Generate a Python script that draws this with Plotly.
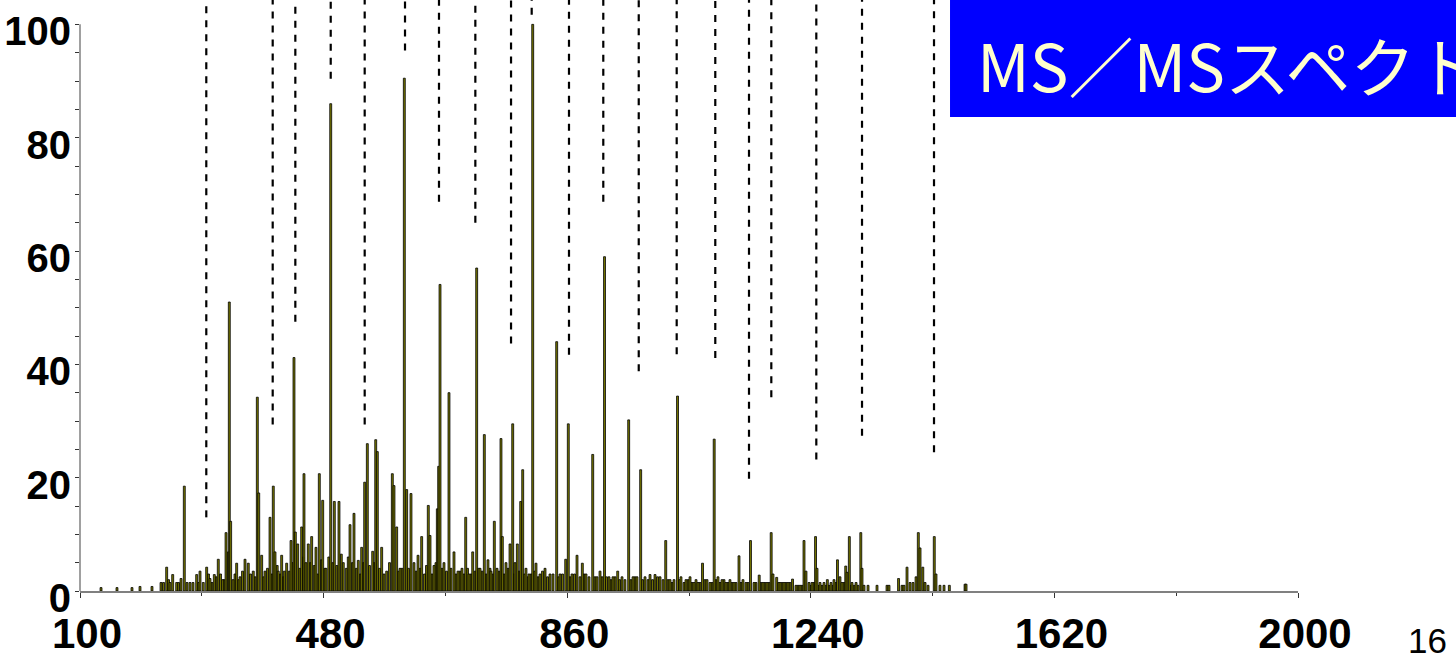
import plotly.graph_objects as go

# ---------------- data ----------------
# main fragment peaks (m/z, relative intensity %)
peak_mz = [132.8, 157.7, 181.1, 193.6, 212.3, 226.4, 235.2, 240.4, 244.6, 250.8,
           257.6, 262.7, 266.9, 271.6, 276.3, 282.0, 287.2, 292.3, 297.6, 302.8,
           309.5, 315.7, 322.6, 327.8, 331.5, 332.9, 335.0, 338.7, 344.4, 349.6,
           357.4, 362.5, 370.3, 376.6, 378.8, 383.4, 388.6, 396.4, 401.5, 404.2,
           409.3, 414.6, 418.7, 422.4, 429.2, 433.8, 435.9, 439.6, 445.8, 449.4,
           452.5, 456.1, 461.4, 468.1, 473.3, 478.6, 483.7, 491.1, 496.7, 504.0,
           510.7, 521.2, 527.4, 534.1, 539.4, 544.1, 548.2, 556.6, 561.3, 563.8,
           570.6, 578.4, 587.2, 589.8, 594.0, 599.2, 605.9, 609.6, 616.3, 621.0,
           627.3, 633.0, 643.3, 646.0, 652.2, 657.4, 659.5, 661.6, 667.8, 675.6,
           683.4, 689.7, 695.9, 701.7, 706.8, 712.6, 718.8, 724.0, 730.7, 736.4,
           741.1, 746.3, 750.5, 756.7, 758.8, 764.5, 770.8, 775.0, 778.6, 782.2,
           787.5, 790.6, 795.7, 800.4, 806.2, 811.3, 817.6, 825.4, 833.2, 843.6,
           848.8, 857.7, 861.7, 867.5, 875.3, 883.6, 889.3, 894.0, 899.8, 906.5,
           911.2, 918.2, 925.2, 931.4, 938.8, 945.5, 955.9, 962.7, 968.9, 974.6,
           981.4, 989.2, 997.0, 1004.8, 1013.7, 1020.4, 1026.6, 1032.1, 1037.5, 1045.3,
           1051.6, 1057.8, 1064.1, 1071.1, 1078.1, 1082.8, 1089.3, 1095.2, 1101.5, 1107.7,
           1113.9, 1120.2, 1128.0, 1134.2, 1138.9, 1145.9, 1151.4, 1159.5, 1165.4, 1171.7,
           1178.2, 1181.0, 1186.8, 1192.0, 1198.2, 1204.4, 1211.5, 1216.9, 1223.2, 1229.4,
           1232.5, 1237.2, 1241.9, 1247.4, 1249.7, 1254.4, 1260.6, 1265.8, 1271.5, 1276.2,
           1281.6, 1285.5, 1288.7, 1294.5, 1296.5, 1300.1, 1304.3, 1310.6, 1318.0, 1319.9,
           1323.0, 1329.3, 1343.3, 1358.9, 1362.0, 1376.9, 1382.3, 1385.4, 1390.1, 1394.8,
           1399.5, 1404.2, 1407.7, 1410.4, 1414.7, 1418.2, 1422.9, 1432.6, 1435.3, 1441.5,
           1447.8, 1456.1, 1480.6, 1482.2]
peak_int = [0.6, 0.6, 0.6, 0.8, 0.8, 1.5, 4.2, 1.5, 2.9, 1.5,
            2.2, 18.5, 1.5, 1.5, 1.5, 2.9, 3.5, 1.5, 4.2, 2.2,
            2.9, 5.6, 2.0, 10.3, 6.9, 51.0, 12.3, 2.0, 4.9, 2.5,
            5.6, 4.9, 3.5, 34.2, 17.3, 6.3, 3.5, 13.0, 18.5, 6.9,
            3.5, 6.3, 3.5, 4.9, 8.9, 41.2, 10.4, 8.3, 11.3, 20.7,
            5.0, 8.3, 9.6, 7.7, 20.7, 16.0, 4.0, 86.0, 15.8, 15.8,
            5.0, 11.7, 13.7, 5.4, 7.7, 19.2, 26.0, 7.0, 26.7, 24.6,
            7.7, 3.5, 20.7, 18.6, 11.3, 4.0, 90.5, 17.9, 17.2, 5.0,
            6.3, 9.6, 15.1, 9.8, 4.5, 14.5, 22.0, 54.1, 5.0, 35.0,
            6.9, 3.5, 4.0, 13.0, 3.0, 6.9, 57.0, 4.0, 27.6, 5.5,
            3.5, 12.3, 4.0, 26.9, 9.6, 5.0, 8.3, 29.5, 5.0, 8.3,
            15.8, 21.4, 4.0, 3.0, 100.0, 4.9, 3.0, 4.0, 3.0, 44.0,
            3.0, 5.6, 29.5, 3.0, 6.3, 4.9, 3.0, 2.5, 24.1, 2.5,
            3.5, 59.0, 2.5, 2.5, 3.5, 2.5, 30.2, 2.5, 2.5, 21.4,
            2.5, 2.9, 2.9, 2.5, 8.9, 2.0, 2.0, 34.4, 2.5, 2.0,
            2.5, 1.5, 1.5, 4.9, 2.0, 1.5, 26.8, 2.5, 2.0, 1.5,
            2.0, 1.5, 6.2, 2.0, 1.5, 8.9, 1.5, 2.8, 1.5, 1.5,
            10.3, 3.0, 2.4, 1.5, 1.5, 1.5, 2.1, 1.0, 1.0, 8.9,
            3.5, 1.5, 1.5, 9.6, 4.0, 1.5, 1.5, 2.0, 1.5, 2.0,
            5.5, 2.5, 1.5, 4.4, 3.3, 9.6, 1.5, 1.5, 10.3, 4.0,
            1.0, 1.0, 1.0, 1.0, 1.0, 2.2, 1.0, 1.0, 4.2, 1.5,
            1.5, 2.5, 10.3, 7.6, 4.2, 1.5, 1.0, 9.6, 3.0, 1.0,
            1.0, 1.0, 1.2, 1.2]

# low-level background peaks (m/z, relative intensity %)
noise_mz = [230.3, 238.1, 253.7, 284.9, 300.5, 305.9, 312.2, 319.2, 324.6, 341.8,
            347.3, 353.5, 366.0, 373.0, 386.3, 392.5, 399.5, 407.6, 412.4, 417.1,
            426.4, 431.9, 442.8, 448.3, 459.2, 465.4, 470.9, 476.4, 481.8, 488.1,
            494.3, 500.6, 507.6, 515.4, 518.5, 524.8, 531.0, 537.2, 541.9, 551.6,
            558.6, 567.2, 574.2, 582.8, 596.8, 602.3, 612.4, 624.2, 630.4, 637.4,
            640.5, 649.1, 655.3, 664.7, 671.7, 678.7, 686.5, 692.8, 699.0, 704.5,
            709.9, 716.2, 721.6, 727.1, 733.3, 739.6, 744.3, 753.6, 761.4, 767.7,
            777.0, 784.8, 793.4, 798.9, 803.6, 809.0, 814.5, 821.5, 829.3, 837.9,
            846.4, 852.7, 864.4, 871.4, 880.0, 886.2, 903.4, 914.3, 921.3, 928.3,
            934.6, 941.6, 950.1, 959.5, 965.8, 977.5, 986.1, 993.1, 1000.9, 1009.5,
            1017.3, 1023.5, 1035.2, 1042.2, 1048.5, 1054.7, 1061.0, 1067.2, 1075.0, 1085.9,
            1092.1, 1098.4, 1104.6, 1110.8, 1117.1, 1123.3, 1131.1, 1142.0, 1154.5, 1162.3,
            1168.5, 1174.8, 1189.6, 1195.1, 1201.3, 1207.5, 1220.1, 1226.3, 1240.3, 1245.0,
            1252.8, 1257.5, 1263.8, 1268.4, 1274.7, 1279.3, 1291.8, 1302.8, 1307.5, 1313.7]
noise_int = [1.5, 2.0, 1.5, 1.5, 3.0, 1.5, 2.5, 3.0, 2.0, 3.0,
             2.0, 3.5, 3.0, 2.5, 2.5, 4.0, 3.0, 4.5, 3.0, 2.5,
             3.5, 5.0, 4.0, 6.0, 5.0, 4.5, 3.0, 5.5, 4.0, 6.0,
             5.0, 4.5, 6.5, 4.0, 6.0, 5.0, 4.0, 3.0, 5.0, 4.5,
             5.0, 4.0, 3.0, 5.0, 3.5, 4.0, 4.0, 3.5, 4.0, 3.0,
             4.5, 3.0, 5.0, 4.0, 3.5, 4.0, 3.0, 3.5, 3.0, 4.0,
             3.0, 3.5, 4.0, 3.5, 3.0, 4.0, 3.0, 3.5, 3.0, 4.0,
             3.0, 3.5, 3.0, 2.5, 3.0, 3.5, 2.5, 3.5, 2.5, 3.0,
             2.5, 3.0, 2.5, 3.0, 2.5, 3.0, 2.5, 2.5, 2.5, 2.0,
             2.5, 2.0, 2.0, 2.0, 2.5, 2.0, 2.0, 2.0, 2.5, 2.0,
             2.0, 1.5, 2.0, 1.5, 2.0, 1.5, 2.0, 1.5, 2.0, 1.5,
             2.0, 1.5, 2.0, 1.5, 1.5, 1.5, 1.5, 1.5, 1.5, 1.5,
             1.5, 1.5, 1.5, 1.5, 1.5, 1.5, 1.0, 1.0, 1.0, 1.5,
             1.0, 1.0, 1.0, 1.0, 1.0, 1.5, 1.5, 1.0, 1.0, 1.0]

# assigned fragment ions: dashed markers drop from the top to these levels
frag_mz = [297.0, 400.6, 435.9, 491.1, 544.1, 607.0, 660.0, 716.7, 772.4, 804.6,
           862.8, 916.3, 971.6, 1030.8, 1091.0, 1143.6, 1178.4, 1248.6, 1319.9, 1432.2]
frag_end = [13.0, 29.4, 47.5, 90.4, 29.4, 95.4, 68.7, 65.0, 43.7, 101.7,
            41.7, 68.7, 38.8, 41.8, 41.1, 19.8, 34.2, 23.2, 27.4, 24.5]

x_ticks = [100, 480, 860, 1240, 1620, 2000]
x_minor = [290, 670, 1050, 1430, 1810]
y_ticks = [0, 20, 40, 60, 80, 100]
title_text = "MS／MSスペクトル"
page_no = "16"

Y_TOP = 104.3

# ---------------- figure ----------------
OLIVE = "#787800"
fig = go.Figure()

fig.add_trace(go.Bar(x=noise_mz, y=noise_int, width=3.0,
                     marker=dict(color=OLIVE, line=dict(color="black", width=0.8)),
                     hoverinfo="skip"))
fig.add_trace(go.Bar(x=peak_mz, y=peak_int, width=3.0,
                     marker=dict(color=OLIVE, line=dict(color="black", width=0.8))))

dx, dy = [], []
for m, e in zip(frag_mz, frag_end):
    dx += [m, m, None]
    dy += [e, Y_TOP, None]
fig.add_trace(go.Scatter(x=dx, y=dy, mode="lines",
                         line=dict(color="black", width=2.2, dash="7px,7px"),
                         hoverinfo="skip"))

x_font = dict(family="Liberation Sans, Arial, sans-serif", size=42,
              color="black", weight="bold")
y_font = dict(family="Liberation Sans, Arial, sans-serif", size=40,
              color="black", weight="bold")

fig.update_layout(
    width=1456, height=663,
    margin=dict(l=80, r=158, t=0, b=72, autoexpand=False),
    plot_bgcolor="white", paper_bgcolor="white",
    showlegend=False, barmode="overlay",
    xaxis=dict(range=[100, 2000], tickmode="array", tickvals=x_ticks,
               ticktext=[str(v) for v in x_ticks],
               ticks="outside", ticklen=5, tickwidth=1, tickcolor="#333",
               minor=dict(tickvals=x_minor, ticks="outside", ticklen=3, tickcolor="#333"),
               showline=True, linecolor="#808080", linewidth=1.5,
               showgrid=False, zeroline=False, tickfont=x_font,
               automargin=False, ticklabeloverflow="allow",
               ticklabelshift=7, ticklabelstandoff=0),
    yaxis=dict(range=[0, Y_TOP], tickmode="array", tickvals=y_ticks,
               ticktext=[str(v) for v in y_ticks],
               ticks="outside", ticklen=4, tickwidth=1, tickcolor="#333",
               minor=dict(dtick=5, tick0=0, ticks="outside", ticklen=4, tickcolor="#333"),
               showline=False, showgrid=False, zeroline=False, tickfont=y_font,
               automargin=False, ticklabeloverflow="allow",
               ticklabelshift=7, ticklabelstandoff=-4),
    shapes=[
        dict(type="line", xref="paper", yref="y", x0=0, x1=0, y0=0, y1=100,
             line=dict(color="#808080", width=1.5)),
        dict(type="rect", xref="paper", yref="paper", x0=0.7143, x1=1.25,
             y0=0.802, y1=1.0, fillcolor="#0000FF", line=dict(width=0)),
    ],
    annotations=[
        dict(text=title_text, xref="paper", yref="paper", x=0.7348, y=0.8917,
             xanchor="left", yanchor="middle", showarrow=False,
             font=dict(family="Noto Sans CJK JP", size=65, color="#FFFFCC")),
        dict(text=page_no, xref="paper", yref="paper", x=1.106, y=-0.1201,
             xanchor="center", yanchor="bottom", showarrow=False,
             font=dict(family="Liberation Sans, Arial, sans-serif", size=35, color="black")),
    ],
)

fig.write_html("out.html")
